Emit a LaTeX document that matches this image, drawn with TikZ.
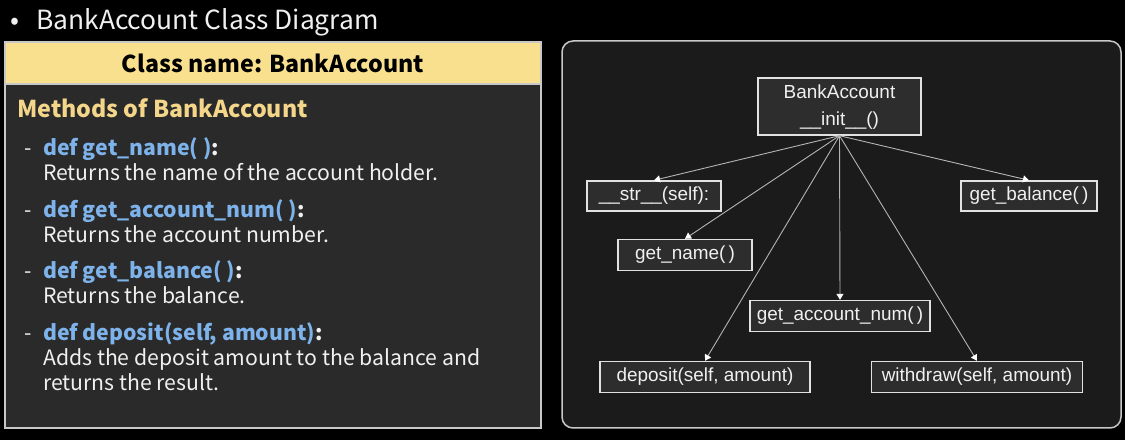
\documentclass[tikz,border=0pt]{standalone}
\usepackage{fontspec}
\newfontfamily\lfont{Noto Sans CJK KR}
\newfontfamily\rfont{Liberation Sans}
\usetikzlibrary{arrows.meta}
\definecolor{hdr}{HTML}{F9E08F}
\definecolor{methc}{HTML}{F3D68A}
\definecolor{defc}{HTML}{7DB3EA}
\definecolor{leftbg}{HTML}{2A2A2A}
\definecolor{rightbg}{HTML}{1B1B1B}
\definecolor{pborder}{HTML}{C8C8C8}
\definecolor{boxfill}{HTML}{2D2D2D}
\definecolor{boxborder}{HTML}{E2E2E2}
\definecolor{arrowc}{HTML}{B4B4B4}
\definecolor{txt}{HTML}{F0F0F0}
\begin{document}
\begin{tikzpicture}[x=1bp,y=-1bp,
  ltext/.style={anchor=base west, inner sep=0, text=txt, font=\lfont\fontsize{21.3}{25}\selectfont},
  defline/.style={ltext, font=\lfont\bfseries\fontsize{21.3}{25}\selectfont},
  cls/.style={draw=boxborder, fill=boxfill, line width=1.4bp, inner sep=0, text=txt,
    font=\rfont\fontsize{19}{28}\selectfont, align=center},
  conn/.style={draw=arrowc, line width=0.9bp, -{Triangle[length=6bp,width=7bp,color=white]}}]
\fill[black] (0,0) rectangle (1125,440);
\useasboundingbox (0,0) rectangle (1125,440);
% title
\node[ltext, font=\lfont\fontsize{26.5}{30}\selectfont] (bul) at (10,30) {•};
\node[ltext, font=\lfont\fontsize{26.5}{30}\selectfont] (title) at (36,30) {BankAccount Class Diagram};
% left panel
\draw[draw=pborder, line width=1.5bp, fill=leftbg] (5,42) rectangle (541,428);
\draw[draw=pborder, line width=1.5bp, fill=hdr] (5,42) rectangle (541,84);
\node[anchor=base, inner sep=0, text=black, font=\lfont\bfseries\fontsize{23.3}{28}\selectfont] (hdrtext) at (273,73) {Class name: BankAccount};
\node[anchor=base west, inner sep=0, text=methc, font=\lfont\bfseries\fontsize{23.3}{28}\selectfont] (meth) at (17,118) {Methods of BankAccount};
% items
\node[ltext] (d1) at (24,156) {-};
\node[defline] (m1) at (43,156) {\textcolor{defc}{def get\_name( )}:};
\node[ltext] (r1) at (43,181) {Returns the name of the account holder.};
\node[ltext] (d2) at (24,218) {-};
\node[defline] (m2) at (43,218) {\textcolor{defc}{def get\_account\_num( )}:};
\node[ltext] (r2) at (43,243) {Returns the account number.};
\node[ltext] (d3) at (24,279) {-};
\node[defline] (m3) at (43,279) {\textcolor{defc}{def get\_balance( )}:};
\node[ltext] (r3) at (43,304) {Returns the balance.};
\node[ltext] (d4) at (24,341) {-};
\node[defline] (m4) at (43,341) {\textcolor{defc}{def deposit(self, amount)}:};
\node[ltext] (r4) at (43,366) {Adds the deposit amount to the balance and};
\node[ltext] (r4b) at (43,391) {returns the result.};
% right panel
\draw[draw=pborder, line width=1.5bp, fill=rightbg, rounded corners=11bp] (562,41) rectangle (1121,428);
\node[cls, minimum width=163bp, minimum height=57bp] (ba) at (839.5,106.5) {\rule{0pt}{15bp}BankAccount\\\_\_init\_\_()};
\node[cls, minimum width=134bp, minimum height=30bp] (str) at (654,196) {\_\_str\_\_(self):};
\node[cls, minimum width=136bp, minimum height=30bp] (bal) at (1029,196) {get\_balance(\,)};
\node[cls, minimum width=134bp, minimum height=31bp] (name) at (685,255) {get\_name(\,)};
\node[cls, minimum width=180bp, minimum height=31bp] (num) at (840,316) {get\_account\_num(\,)};
\node[cls, minimum width=210bp, minimum height=31bp] (dep) at (705,377) {deposit(self, amount)};
\node[cls, minimum width=211bp, minimum height=31bp] (wd) at (977,377) {withdraw(self, amount)};
\draw[conn] (ba.south) -- (str.north);
\draw[conn] (ba.south) -- (bal.north);
\draw[conn] (ba.south) -- (name.north);
\draw[conn] (ba.south) -- (num.north);
\draw[conn] (ba.south) -- (dep.north);
\draw[conn] (ba.south) -- (wd.north);
\end{tikzpicture}
\end{document}
